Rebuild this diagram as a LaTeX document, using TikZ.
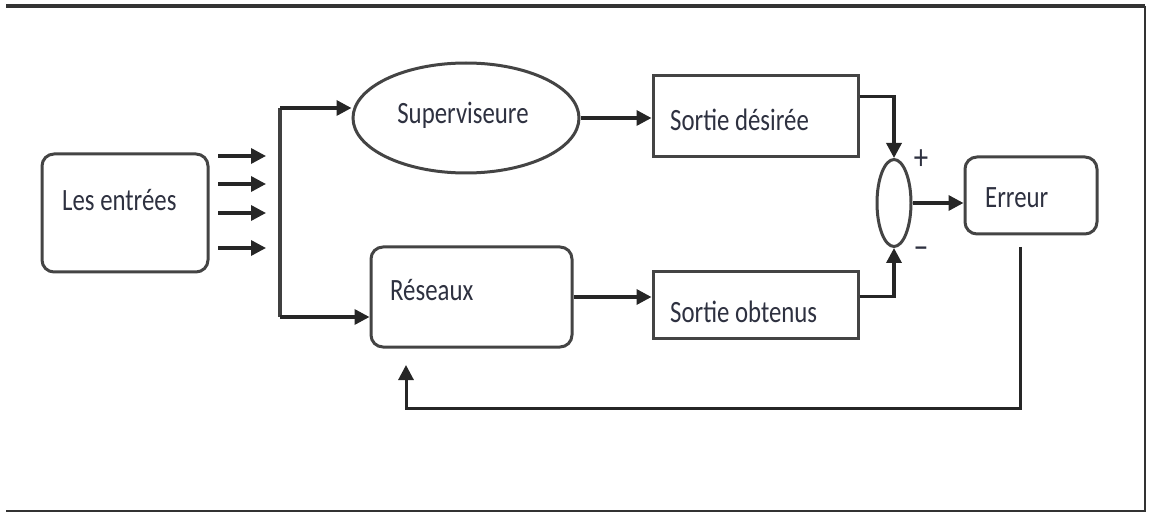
\documentclass[tikz,border=0pt]{standalone}
\usepackage{fontspec}
\setmainfont[FakeStretch=0.8]{Carlito}
\usetikzlibrary{shapes.geometric,arrows.meta,calc}
\definecolor{edge}{HTML}{444444}
\definecolor{ink}{HTML}{2E3140}
\tikzset{
  box/.style={draw=edge,line width=3pt,inner sep=0pt,fill=white},
  rbox/.style={box,rounded corners=12pt},
  lbl/.style={anchor=west,inner sep=0pt,text=ink,font=\fontsize{31}{31}\selectfont},
  flow/.style={draw=black!85,line width=3.4pt,-{Triangle[length=15pt,width=15pt]}},
  wire/.style={draw=black!75,line width=3.4pt},
  frameline/.style={draw=black!80,line width=2.4pt}
}
\begin{document}
\begin{tikzpicture}[x=1pt,y=-1pt]
\useasboundingbox (0,0) rectangle (1149,513);
% frame
\draw[frameline,line width=3.6pt] (6,6) -- (1145,6);
\draw[frameline] (1145,6) -- (1145,511) -- (6,511);

% blocks
\node[rbox,minimum width=166pt,minimum height=118pt] (ent) at (125,213) {};
\node[lbl] (entT) at (62,200) {Les entrées};

\node[box,ellipse,minimum width=226pt,minimum height=110pt] (ell) at (466,118) {};
\node[lbl,anchor=center] (ellT) at (463,115) {Superviseure};

\node[box,minimum width=205pt,minimum height=81pt] (sd) at (755.5,116.5) {};
\node[lbl] (sdT) at (670,120) {Sortie désirée};

\node[rbox,minimum width=201pt,minimum height=100pt] (res) at (471.5,297) {};
\node[lbl] (resT) at (390,290) {Réseaux};

\node[box,minimum width=205pt,minimum height=66pt] (so) at (755.5,305) {};
\node[lbl] (soT) at (670,312) {Sortie obtenus};

\node[box,ellipse,minimum width=34pt,minimum height=87pt] (sum) at (894,203) {};
\node[lbl,anchor=center,font=\fontsize{36}{36}\selectfont] (plus) at (921,160) {+};
\node[lbl,anchor=center,font=\fontsize{36}{36}\selectfont] (minus) at (921,253) {−};

\node[rbox,minimum width=132pt,minimum height=77pt] (err) at (1031,195.5) {};
\node[lbl] (errT) at (985,198) {Erreur};

% input arrows
\foreach \i/\y in {1/156,2/184,3/213,4/248}{
  \coordinate (in\i a) at (218,\y);
  \coordinate (in\i b) at (266,\y);
  \draw[flow] (in\i a) -- (in\i b);
}

% distribution bus
\coordinate (b1) at (280,108);
\coordinate (b2) at (280,317);
\draw[wire] (b1) -- (b2);
\draw[flow] (b1) -- (b1 -| ell.west);
\draw[flow] (b2) -- (b2 -| res.west);

% forward paths
\draw[flow] (ell.east) -- (ell.east -| sd.west);
\draw[flow] (res.east) -- (res.east -| so.west);
\coordinate (sdo) at ($(sd.north east)!0.26!(sd.south east)$);
\draw[flow] (sdo) -| (sum.north);
\coordinate (soo) at ($(so.north east)!0.38!(so.south east)$);
\draw[flow] (soo) -| (sum.south);
\draw[flow] (sum.east) -- (sum.east -| err.west);

% feedback loop
\coordinate (fb1) at (1020,247);
\coordinate (fb2) at (1020,408);
\coordinate (fb3) at (406,408);
\coordinate (fb4) at (406,365);
\draw[flow,line width=3pt] (fb1) -- (fb2) -- (fb3) -- (fb4);
\end{tikzpicture}
\end{document}
